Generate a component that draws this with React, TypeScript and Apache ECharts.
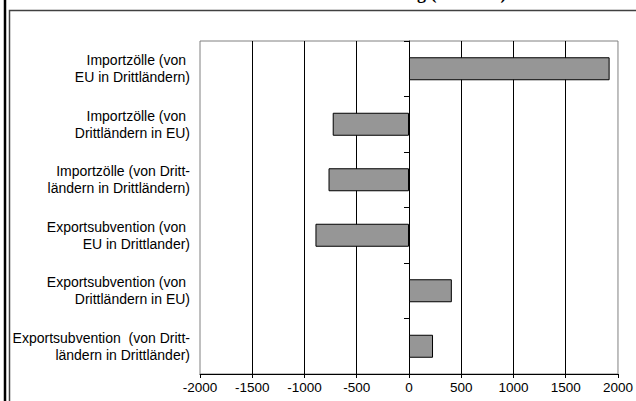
import React, { useEffect, useRef } from "react";
import * as echarts from "echarts";

const categories = [
  "Importzölle (von \nEU in Drittländern)",
  "Importzölle (von \nDrittländern in EU)",
  "Importzölle (von Dritt-\nländern in Drittländern)",
  "Exportsubvention (von \nEU in Drittlander)",
  "Exportsubvention (von \nDrittländern in EU)",
  "Exportsubvention  (von Dritt-\nländern in Drittländer)",
];
const values = [1920, -730, -770, -895, 410, 230];
const xMin = -2000;
const xMax = 2000;
const xStep = 500;
const titleText = "Wohlfahrtsänderung (in Mio €)";

export default function App() {
  const ref = useRef<HTMLDivElement>(null);
  useEffect(() => {
    if (!ref.current) return;
    const chart = echarts.init(ref.current, null, { renderer: "svg" });
    chart.setOption({
      animation: false,
      backgroundColor: "#ffffff",
      graphic: [
        {
          type: "text",
          left: 265,
          top: -16,
          style: {
            text: titleText,
            font: "bold 18px 'Liberation Serif'",
            fill: "#000",
          },
          z: 0,
        },
        {
          type: "polyline",
          shape: { points: [[9.5, 401], [9.5, 10.5], [636, 10.5]] },
          style: { fill: "none", stroke: "#404040", lineWidth: 1.5 },
          z: 1,
        },
        {
          type: "line",
          shape: { x1: 5, y1: 0, x2: 5, y2: 401 },
          style: { stroke: "#000", lineWidth: 2.5 },
          z: 1,
        },
      ],
      grid: {
        left: 200,
        right: 16,
        top: 41,
        bottom: 27,
        show: true,
        borderColor: "#808080",
        borderWidth: 1,
        backgroundColor: "transparent",
      },
      xAxis: {
        type: "value",
        min: xMin,
        max: xMax,
        interval: xStep,
        axisLine: { show: true, onZero: false, lineStyle: { color: "#000", width: 1 } },
        axisTick: { show: true, length: 4, lineStyle: { color: "#000" } },
        axisLabel: {
          color: "#000",
          fontFamily: "Liberation Sans",
          fontSize: 13.5,
          margin: 6,
          formatter: (v: number) => String(v),
        },
        splitLine: {
          show: true,
          showMinLine: false,
          showMaxLine: false,
          lineStyle: { color: "#000", width: 1 },
        },
      },
      yAxis: [
        {
          type: "category",
          data: categories,
          inverse: true,
          axisLine: { show: false, onZero: false },
          axisTick: { show: false },
          splitLine: { show: false },
          axisLabel: {
            color: "#000",
            fontFamily: "Liberation Sans",
            fontSize: 14,
            lineHeight: 17,
            align: "right",
            margin: 10,
          },
        },
        {
          type: "category",
          data: categories,
          inverse: true,
          position: "left",
          axisLine: { show: true, onZero: true, lineStyle: { color: "#000", width: 1 } },
          axisTick: { show: true, length: 5, lineStyle: { color: "#000" } },
          axisLabel: { show: false },
          splitLine: { show: false },
        },
      ],
      series: [
        {
          type: "bar",
          data: values,
          yAxisIndex: 0,
          barWidth: 23,
          itemStyle: { color: "#969696", borderColor: "#000", borderWidth: 1 },
          z: 3,
        },
      ],
    });
    return () => chart.dispose();
  }, []);
  return (
    <div
      ref={ref}
      style={{ position: "fixed", left: 0, top: 0, width: 636, height: 401 }}
    />
  );
}
